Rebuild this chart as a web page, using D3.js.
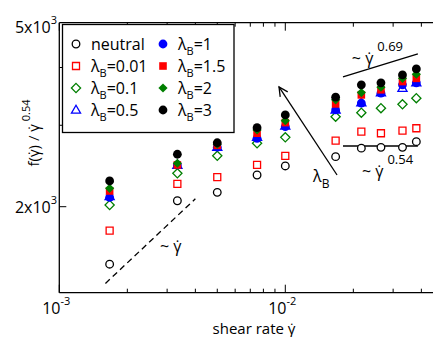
<!DOCTYPE html>
<html>
<head>
<meta charset="utf-8">
<script src="https://cdn.jsdelivr.net/npm/d3@7"></script>
<style>
  body { margin: 0; background: #fff; }
  text { font-family: "Open Sans", "DejaVu Sans", sans-serif; fill: #000; }
</style>
</head>
<body>
<script>
// shear rates (x) shared by every series
const shearRates = [0.00167, 0.00333, 0.005, 0.0075, 0.01, 0.0167, 0.0217, 0.0265, 0.033, 0.038];

// f(gamma) / gamma^0.54 per lambda_B
const neutral = [1502, 2060, 2148, 2342, 2450, 2566, 2677, 2688, 2688, 2765];
const lb001 = [1775, 2240, 2317, 2462, 2575, 2780, 2907, 2883, 2920, 2956];
const lb01 = [2017, 2362, 2577, 2743, 2825, 3131, 3194, 3266, 3330, 3433];
const lb05 = [2105, 2460, 2690, 2825, 2990, 3238, 3358, 3530, 3608, 3707];
const lb1 = [2095, 2462, 2690, 2812, 2980, 3238, 3350, 3520, 3670, 3707];
const lb15 = [2163, 2462, 2715, 2884, 3040, 3337, 3490, 3580, 3730, 3790];
const lb2 = [2192, 2483, 2730, 2930, 3070, 3405, 3530, 3626, 3790, 3870];
const lb3 = [2274, 2597, 2750, 2965, 3159, 3450, 3669, 3707, 3855, 3972];

// tick values
const xMajorTicks = [1e-3, 1e-2];
const xMinorTicks = [2e-3, 3e-3, 4e-3, 5e-3, 6e-3, 7e-3, 8e-3, 9e-3, 2e-2, 3e-2, 4e-2];
const yTicks = [2000, 3000, 4000];
const yTickLabels = [{ v: 2000, m: '2x10', e: '3' }, { v: 5000, m: '5x10', e: '3' }];

// guide lines (data units)
const slopeOne = [[0.0016, 1365], [0.004, 2080]];
const slope069 = [[0.018, 3818], [0.0386, 4281]];
const slope054 = [[0.018, 2706], [0.0386, 2706]];
const lambdaArrow = [[0.01694, 2342], [0.00938, 3632]];

const W = 433, H = 337;
const plotLeft = 59.3, plotTop = 22.7, plotBottom = 292.7;

const x = d3.scaleLog().domain([1e-3, 1e-2]).range([plotLeft, plotLeft + 226]);
const y = d3.scaleLog().domain([2000, 5000]).range([206.7, plotTop]);

const svg = d3.select('body').append('svg')
  .attr('width', W)
  .attr('height', H);

// draw order (bottom to top)
const series = [
  { label: 'neutral', vals: neutral, shape: 'circle', color: '#000', filled: false },
  { label: '0.01', vals: lb001, shape: 'square', color: '#ff0000', filled: false },
  { label: '0.1', vals: lb01, shape: 'diamond', color: '#007f00', filled: false },
  { label: '1', vals: lb1, shape: 'circle', color: '#0000ff', filled: true },
  { label: '0.5', vals: lb05, shape: 'triangle', color: '#0000ff', filled: false },
  { label: '1.5', vals: lb15, shape: 'square', color: '#ff0000', filled: true },
  { label: '2', vals: lb2, shape: 'diamond', color: '#007f00', filled: true },
  { label: '3', vals: lb3, shape: 'circle', color: '#000', filled: true }
];
const legendOrder = ['neutral', '0.01', '0.1', '0.5', '1', '1.5', '2', '3'];

function markerPath(shape, filled) {
  if (shape === 'circle') {
    const r = filled ? 4.4 : 3.8;
    return d3.symbol().type(d3.symbolCircle).size(Math.PI * r * r)();
  }
  if (shape === 'square') {
    const s = filled ? 3.8 : 3.5;
    return `M${-s},${-s}H${s}V${s}H${-s}Z`;
  }
  if (shape === 'diamond') {
    const s = 4.6;
    return `M0,${-s}L${s},0L0,${s}L${-s},0Z`;
  }
  const s = 4.8;
  return `M0,${-s}L${s * 0.95},${s * 0.65}L${-s * 0.95},${s * 0.65}Z`;
}

function drawMarker(sel, s) {
  sel.attr('d', markerPath(s.shape, s.filled))
    .attr('fill', s.filled ? s.color : (s.shape === 'circle' ? '#fff' : 'none'))
    .attr('stroke', s.color)
    .attr('stroke-width', s.filled ? 0 : 1.3);
}

// frame
const frame = svg.append('g').attr('stroke', '#000').attr('stroke-width', 1.3);
frame.append('line').attr('x1', plotLeft).attr('x2', plotLeft).attr('y1', plotTop).attr('y2', plotBottom);
frame.append('line').attr('x1', plotLeft).attr('x2', W + 5).attr('y1', plotTop).attr('y2', plotTop);
frame.append('line').attr('x1', plotLeft).attr('x2', W + 5).attr('y1', plotBottom).attr('y2', plotBottom);

// ticks (inward, bottom and top)
const tickG = svg.append('g').attr('stroke', '#000').attr('stroke-width', 1);
xMajorTicks.concat(xMinorTicks).forEach(v => {
  const len = xMajorTicks.includes(v) ? 8 : 4;
  tickG.append('line').attr('x1', x(v)).attr('x2', x(v)).attr('y1', plotBottom).attr('y2', plotBottom - len);
  tickG.append('line').attr('x1', x(v)).attr('x2', x(v)).attr('y1', plotTop).attr('y2', plotTop + len);
});
yTicks.forEach(v => {
  tickG.append('line').attr('x1', plotLeft).attr('x2', plotLeft + 7).attr('y1', y(v)).attr('y2', y(v));
});

// tick labels
xMajorTicks.forEach(v => {
  const t = svg.append('text')
    .attr('x', x(v) - 3)
    .attr('y', 314)
    .attr('text-anchor', 'middle')
    .style('font-size', '16px');
  t.append('tspan').text('10');
  t.append('tspan').attr('dy', -9).style('font-size', '11px').text(Math.round(Math.log10(v)));
});
yTickLabels.forEach(d => {
  const t = svg.append('text')
    .attr('x', 57)
    .attr('y', y(d.v) + (d.v === 5000 ? 10 : 6))
    .attr('text-anchor', 'end')
    .style('font-size', '16px');
  t.append('tspan').text(d.m);
  t.append('tspan').attr('dy', -9).style('font-size', '11px').text(d.e);
});

// axis titles
svg.append('text')
  .attr('x', 254)
  .attr('y', 334)
  .attr('text-anchor', 'middle')
  .style('font-size', '15px')
  .text('shear rate  \u03B3\u0307');

const yt = svg.append('text')
  .attr('transform', 'translate(39,133) rotate(-90)')
  .attr('text-anchor', 'middle')
  .style('font-size', '15px');
yt.append('tspan').text('f(\u03B3\u0307)  /  \u03B3\u0307');
yt.append('tspan').attr('dy', -9).style('font-size', '11px').text(' 0.54');

// guide lines
const line = d3.line().x(d => x(d[0])).y(d => y(d[1]));
svg.append('path').attr('d', line(slopeOne))
  .attr('fill', 'none').attr('stroke', '#000').attr('stroke-width', 1.3)
  .attr('stroke-dasharray', '6,4');
svg.append('path').attr('d', line(slope069))
  .attr('fill', 'none').attr('stroke', '#000').attr('stroke-width', 1.3);
svg.append('path').attr('d', line(slope054))
  .attr('fill', 'none').attr('stroke', '#000').attr('stroke-width', 1.3);

svg.append('defs').append('marker')
  .attr('id', 'arrow')
  .attr('viewBox', '-10 -6 12 12')
  .attr('markerWidth', 12).attr('markerHeight', 12)
  .attr('markerUnits', 'userSpaceOnUse')
  .attr('orient', 'auto')
  .append('path')
  .attr('d', 'M-9,-4.5L0,0L-9,4.5')
  .attr('fill', 'none').attr('stroke', '#000').attr('stroke-width', 1.3);
svg.append('path').attr('d', line(lambdaArrow))
  .attr('fill', 'none').attr('stroke', '#000').attr('stroke-width', 1.3)
  .attr('marker-end', 'url(#arrow)');

// annotation texts
function gammaLabel(px, py, exp) {
  const t = svg.append('text').attr('x', px).attr('y', py).style('font-size', '16px');
  t.append('tspan').text('~ \u03B3\u0307');
  if (exp) t.append('tspan').attr('dy', -13).attr('dx', 4).style('font-size', '13px').text(exp);
}
gammaLabel(x(0.00279), y(1597));
gammaLabel(x(0.0197), y(4073), '0.69');
gammaLabel(x(0.02183), y(2320), '0.54');

const lam = svg.append('text').attr('x', x(0.01327)).attr('y', y(2262)).style('font-size', '16px');
lam.append('tspan').text('\u03BB');
lam.append('tspan').attr('dy', 6).style('font-size', '12px').text('B');

// data markers
series.forEach(s => {
  svg.append('g').selectAll('path')
    .data(shearRates.map((r, i) => [r, s.vals[i]]))
    .join('path')
    .attr('transform', d => `translate(${x(d[0])},${y(d[1])})`)
    .call(drawMarker, s);
});

// legend
const legend = svg.append('g');
legend.append('rect')
  .attr('x', 62.5).attr('y', 24.5).attr('width', 171.5).attr('height', 108)
  .attr('fill', '#fff').attr('stroke', '#000').attr('stroke-width', 1.3);

legendOrder.forEach((lbl, k) => {
  const s = series.find(d => d.label === lbl);
  const col = k < 4 ? 0 : 1;
  const row = k % 4;
  const mx = col === 0 ? 76 : 163;
  const my = 44 + row * 22;
  legend.append('path')
    .attr('transform', `translate(${mx},${my})`)
    .call(drawMarker, s);
  const t = legend.append('text')
    .attr('x', mx + 15)
    .attr('y', my + 6)
    .style('font-size', '16px');
  if (lbl === 'neutral') {
    t.text('neutral');
  } else {
    t.append('tspan').text('\u03BB');
    t.append('tspan').attr('dy', 5).style('font-size', '11px').text('B');
    t.append('tspan').attr('dy', -5).text('=' + lbl);
  }
});
</script>
</body>
</html>
